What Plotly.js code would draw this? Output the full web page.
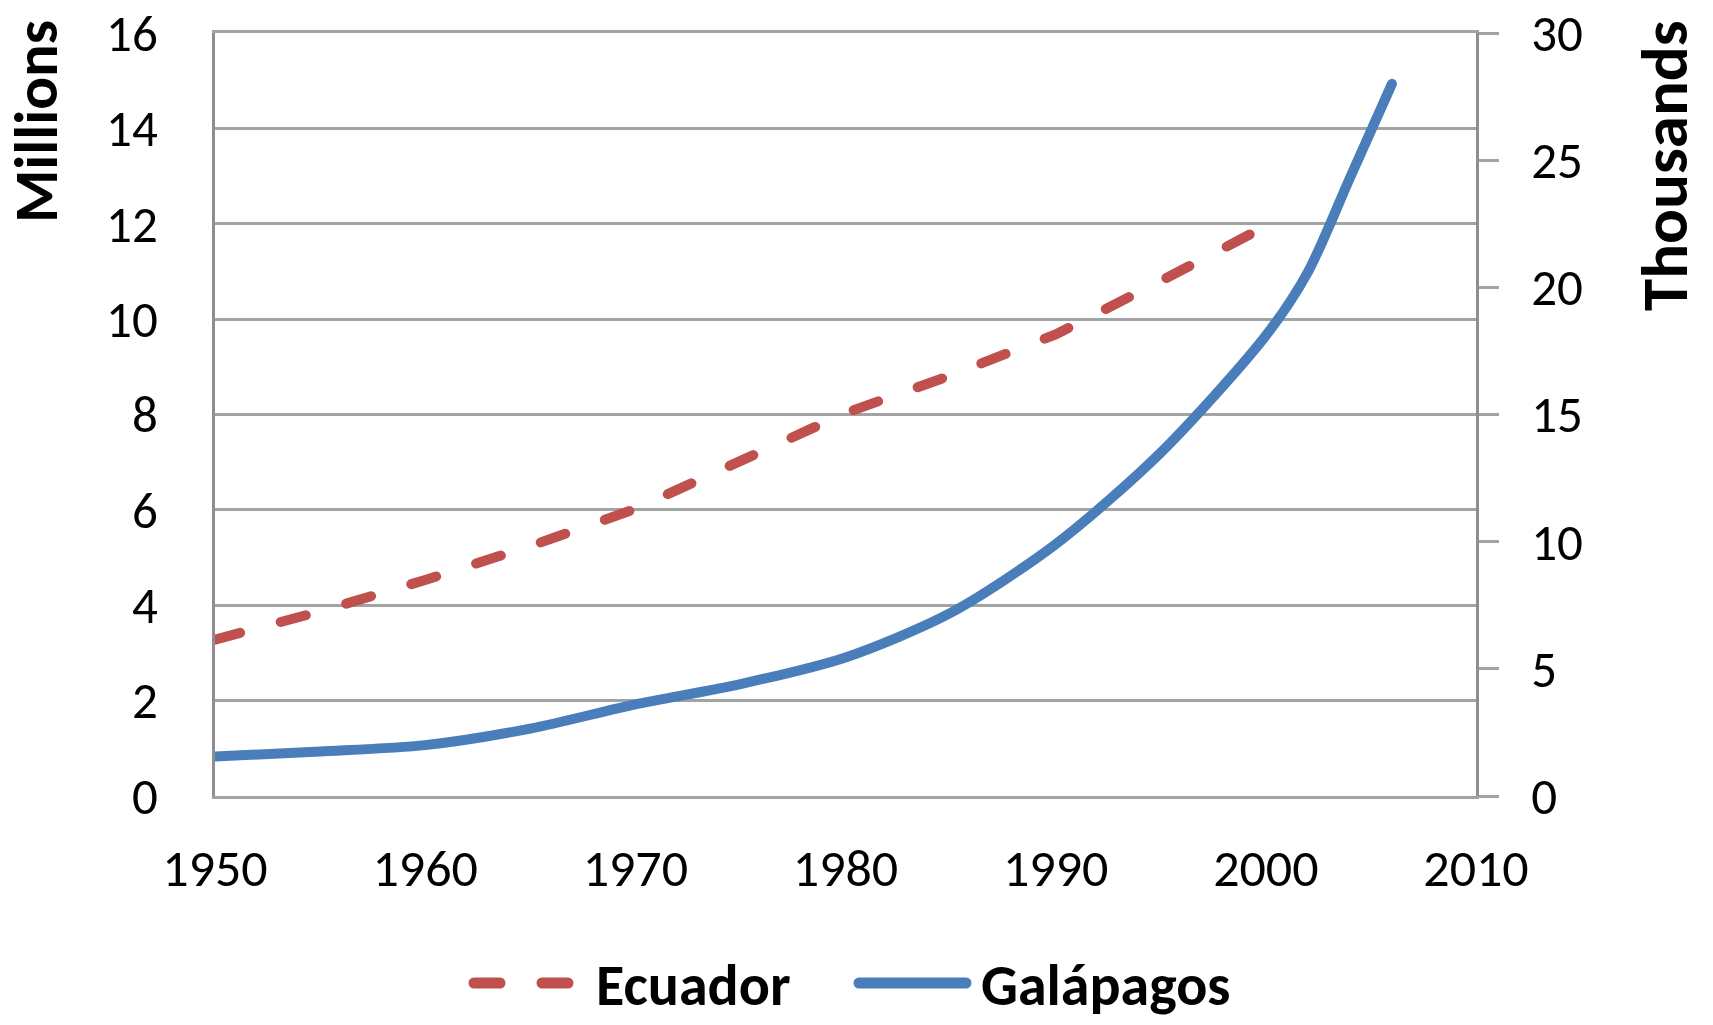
<!DOCTYPE html>
<html>
<head>
<meta charset="utf-8">
<script src="https://cdn.plot.ly/plotly-3.0.1.min.js"></script>
<style>
  html, body { margin: 0; padding: 0; background: #ffffff; }
  #chart { width: 1713px; height: 1025px; }
  .scatterlayer .js-line { stroke-linecap: round; }
  .shapelayer path { stroke-linecap: round; }
</style>
</head>
<body>
<div id="chart"></div>
<script>
// ---- data ----
var ecuadorYears = [1950, 1955, 1960, 1965, 1970, 1975, 1980, 1985, 1990, 1995, 2000];
var ecuadorMillions = [3.28, 3.87, 4.53, 5.24, 6.02, 7.0, 8.03, 8.82, 9.68, 10.8, 11.95];

var galapagosYears = [1950, 1955, 1960, 1965, 1970, 1975, 1980, 1985, 1990, 1995, 2000, 2002, 2004, 2006];
var galapagosThousands = [1.55, 1.75, 2.0, 2.65, 3.6, 4.4, 5.45, 7.2, 9.9, 13.5, 18.1, 20.6, 24.3, 28.0];

var xTickVals = [1950, 1960, 1970, 1980, 1990, 2000, 2010];
var xTickText = ['1950', '1960', '1970', '1980', '1990', '2000', '2010'];
var leftTickVals = [0, 2, 4, 6, 8, 10, 12, 14, 16];
var rightTickVals = [0, 5, 10, 15, 20, 25, 30];

var seriesNames = ['Ecuador', 'Galápagos'];
var leftTitle = 'Millions';
var rightTitle = 'Thousands';

// ---- styles ----
var FONT = 'Carlito, Lato, sans-serif';
var RED = '#C0504D';
var BLUE = '#4A7EBB';
var GRID = '#a3a3a3';
var AXIS = '#8e8e8e';
var DASH = '26px,42px';

var traces = [
  {
    x: ecuadorYears, y: ecuadorMillions, name: seriesNames[0],
    type: 'scatter', mode: 'lines', yaxis: 'y',
    line: { color: RED, width: 10, dash: DASH }
  },
  {
    x: galapagosYears, y: galapagosThousands, name: seriesNames[1],
    type: 'scatter', mode: 'lines', yaxis: 'y2',
    line: { color: BLUE, width: 10, shape: 'spline', smoothing: 0.8 }
  }
];

var L = 215, R = 237, T = 33, B = 229;
var W = 1713, H = 1025;
var PW = W - L - R, PH = H - T - B;
function px(x) { return (x - L) / PW; }
function py(y) { return (H - B - y) / PH; }

var layout = {
  width: W, height: H,
  margin: { l: L, r: R, t: T, b: B, pad: 0 },
  paper_bgcolor: '#ffffff',
  plot_bgcolor: '#ffffff',
  font: { family: FONT, color: '#000000', size: 52 },
  showlegend: false,
  xaxis: {
    range: [1950, 2010],
    tickvals: xTickVals, ticktext: xTickText,
    showgrid: false, zeroline: false,
    showline: true, mirror: true, linecolor: GRID, linewidth: 3,
    ticks: '', ticklabelstandoff: 25,
    ticklabeloverflow: 'allow',
    tickfont: { family: FONT, size: 52, color: '#000000' },
    fixedrange: true
  },
  yaxis: {
    range: [0, 16],
    tickvals: leftTickVals,
    showgrid: true, gridcolor: GRID, gridwidth: 3,
    zeroline: false,
    showline: true, linecolor: AXIS, linewidth: 3,
    ticks: '', ticklabelstandoff: 44,
    ticklabeloverflow: 'allow',
    tickfont: { family: FONT, size: 51, color: '#000000' },
    fixedrange: true
  },
  yaxis2: {
    range: [0, 30],
    tickvals: rightTickVals,
    overlaying: 'y', side: 'right',
    showgrid: false, zeroline: false,
    showline: true, linecolor: AXIS, linewidth: 3,
    ticks: 'outside', ticklen: 20, tickwidth: 3, tickcolor: GRID,
    ticklabelstandoff: 22,
    ticklabeloverflow: 'allow',
    tickfont: { family: FONT, size: 51, color: '#000000' },
    fixedrange: true
  },
  annotations: [
    {
      text: leftTitle, xref: 'paper', yref: 'paper',
      x: px(36), y: py(122), xanchor: 'center', yanchor: 'middle',
      textangle: -90, showarrow: false,
      font: { family: FONT, size: 61, weight: 700, color: '#000000' }
    },
    {
      text: rightTitle, xref: 'paper', yref: 'paper',
      x: px(1665), y: py(166), xanchor: 'center', yanchor: 'middle',
      textangle: -90, showarrow: false,
      font: { family: FONT, size: 65, weight: 700, color: '#000000' }
    },
    {
      text: seriesNames[0], xref: 'paper', yref: 'paper',
      x: px(594), y: py(985), xanchor: 'left', yanchor: 'middle',
      showarrow: false,
      font: { family: FONT, size: 58, weight: 700, color: '#000000' }
    },
    {
      text: seriesNames[1], xref: 'paper', yref: 'paper',
      x: px(979), y: py(985), xanchor: 'left', yanchor: 'middle',
      showarrow: false,
      font: { family: FONT, size: 58, weight: 700, color: '#000000' }
    }
  ],
  shapes: [
    {
      type: 'line', xref: 'paper', yref: 'paper',
      x0: px(474), x1: px(574), y0: py(983), y1: py(983),
      line: { color: RED, width: 11, dash: DASH }
    },
    {
      type: 'line', xref: 'paper', yref: 'paper',
      x0: px(859), x1: px(966), y0: py(983), y1: py(983),
      line: { color: BLUE, width: 11 }
    }
  ]
};

Plotly.newPlot('chart', traces, layout, { displayModeBar: false, staticPlot: true });
</script>
</body>
</html>
